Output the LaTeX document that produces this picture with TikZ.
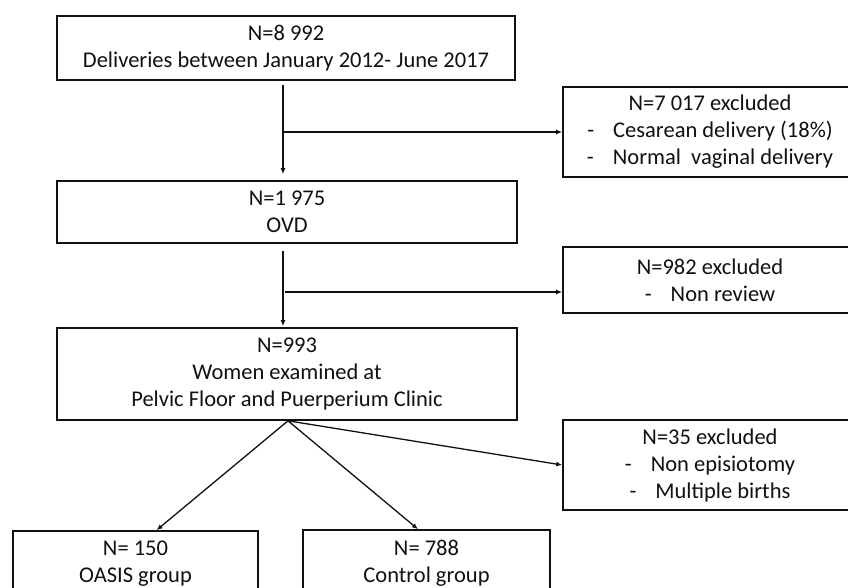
\documentclass[tikz,border=0pt]{standalone}
\usepackage{fontspec}
\setmainfont{Carlito}
\usetikzlibrary{arrows.meta,positioning,calc}
\definecolor{ink}{HTML}{111111}
\tikzset{
  box/.style={draw=ink,line width=1.6pt,fill=white,inner sep=0pt,align=center,font=\fontsize{22.5}{27}\selectfont,text=ink},
  excl/.style={box,minimum width=294pt},
  flow/.style={-{Latex[length=6pt,width=5pt]},line width=1.3pt,draw=ink}
}

\begin{document}
\begin{tikzpicture}[x=1pt,y=-1pt]
  \path[use as bounding box,clip] (0,0) rectangle (848,588);
  % main column
  \node[box,minimum width=458pt,minimum height=64pt] (total) at (286,48) {N=8 992\\Deliveries between January 2012- June 2017};
  \node[box,minimum width=460pt,minimum height=62pt] (ovd) at (287,212) {N=1 975\\OVD};
  \node[box,minimum width=460pt,minimum height=92pt] (clinic) at (287,374) {N=993\\Women examined at\\Pelvic Floor and Puerperium Clinic};
  % exclusions
  \node[excl,minimum height=90pt] (excla) at (710,132) {N=7 017 excluded\\-\hspace{19pt}Cesarean delivery (18\%)\\-\hspace{19pt}Normal\ \ vaginal delivery};
  \node[excl,minimum height=66pt] (exclb) at (710,280) {N=982 excluded\\-\hspace{19pt}Non review};
  \node[excl,minimum height=90pt] (exclc) at (710,465) {N=35 excluded\\-\hspace{19pt}Non episiotomy\\-\hspace{19pt}Multiple births};
  % groups
  \node[box,minimum width=245pt,minimum height=65pt] (oasis) at (135.5,563.5) {N= 150\\OASIS group};
  \node[box,minimum width=247pt,minimum height=66pt] (control) at (426.5,563) {N= 788\\Control group};
  \coordinate (hitb) at ([yshift=-12pt]exclb.west);

  \draw[flow] ([xshift=-3pt,yshift=-4pt]total.south) -- ([xshift=-4pt,yshift=6pt]ovd.north);
  \draw[flow] ([xshift=-3pt]total.south |- excla.west) -- (excla.west);
  \draw[flow] ([xshift=-4pt,yshift=-7pt]ovd.south) -- ([xshift=-4pt,yshift=1pt]clinic.north);
  \draw[flow] ([xshift=-2pt]ovd.south |- hitb) -- (hitb);
  \draw[flow] ([xshift=1pt]clinic.south) -- ([xshift=21pt]oasis.north);
  \draw[flow] ([xshift=1pt]clinic.south) -- ([xshift=-8.5pt]control.north);
  \draw[flow] ([xshift=1pt]clinic.south) -- (exclc.west);
\end{tikzpicture}
\end{document}
